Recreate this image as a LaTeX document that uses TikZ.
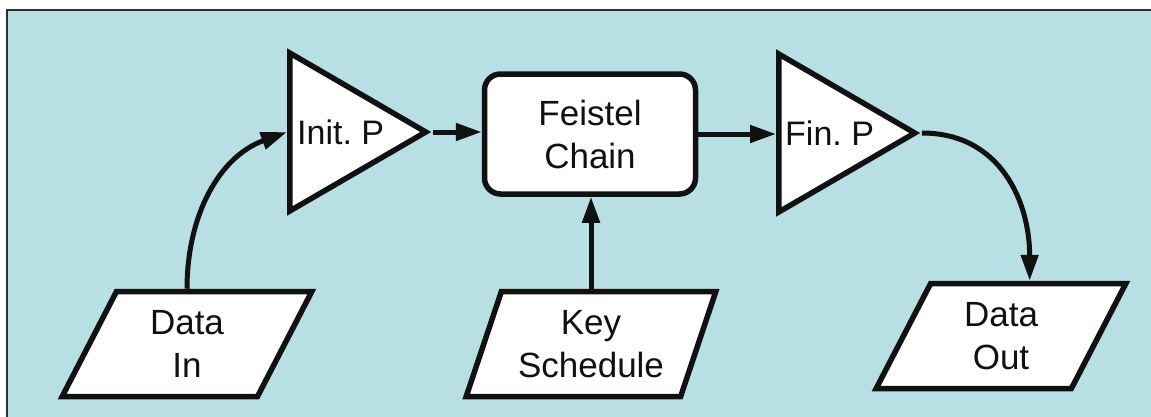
\documentclass[tikz,border=0pt]{standalone}
\usepackage{fontspec}
\setmainfont{Liberation Sans}
\usetikzlibrary{shapes.geometric,arrows.meta,calc}
\definecolor{panel}{RGB}{184,223,227}
\definecolor{frameline}{RGB}{30,52,56}
\definecolor{ink}{RGB}{17,17,17}
\begin{document}
\begin{tikzpicture}[x=1pt,y=1pt,
  every node/.style={font=\fontsize{35}{43}\selectfont, text=ink},
  block/.style={draw=ink, line width=5.5pt, fill=white},
  perm/.style={block, isosceles triangle, isosceles triangle stretches,
    minimum width=158pt, minimum height=136pt, inner sep=0pt, anchor=lower side},
  io/.style={block, trapezium, trapezium left angle=67, trapezium right angle=113,
    trapezium stretches, minimum width=250pt, minimum height=105pt,
    inner sep=0pt, align=center},
  proc/.style={block, rectangle, rounded corners=16pt,
    minimum width=211pt, minimum height=120pt, align=center},
  flow/.style={draw=ink, line width=5pt, -{Triangle[length=26pt,width=17pt]}},
  tag/.style={inner sep=0pt, anchor=west, font=\fontsize{34}{42}\selectfont}
]
% page and panel
\useasboundingbox (0,0) rectangle (1151,-416);
\clip (0,0) rectangle (1151,-416);
\draw[draw=frameline, line width=2pt, fill=panel] (7,-10) rectangle (1175,-440);

% blocks
\node[perm] (ip) at (287,-132) {};
\node[tag] at ([xshift=10pt]ip.lower side) {Init.\ P};
\node[proc] (fc) at (590,-134) {Feistel\\Chain};
\node[perm] (fp) at (776,-133) {};
\node[tag] at ([xshift=9pt]fp.lower side) {Fin.\ P};
\node[io] (din) at (187,-344) {Data\\In};
\node[io] (ks) at (591,-344) {Key\\Schedule};
\node[io] (dout) at (1001,-336) {Data\\Out};

% connectors
\draw[flow] (din.north) to[out=90,in=200] (ip.lower side);
\draw[flow] (ip.apex) -- (ip.apex -| fc.west);
\draw[flow] (ks.north) -- (ks.north |- fc.south);
\draw[flow] (fc.east) -- (fc.east -| fp.lower side);
\draw[flow] (fp.apex) to[out=0,in=90,looseness=1.1]
  ($(dout.top left corner)!0.5!(dout.top right corner)$);
\end{tikzpicture}
\end{document}
